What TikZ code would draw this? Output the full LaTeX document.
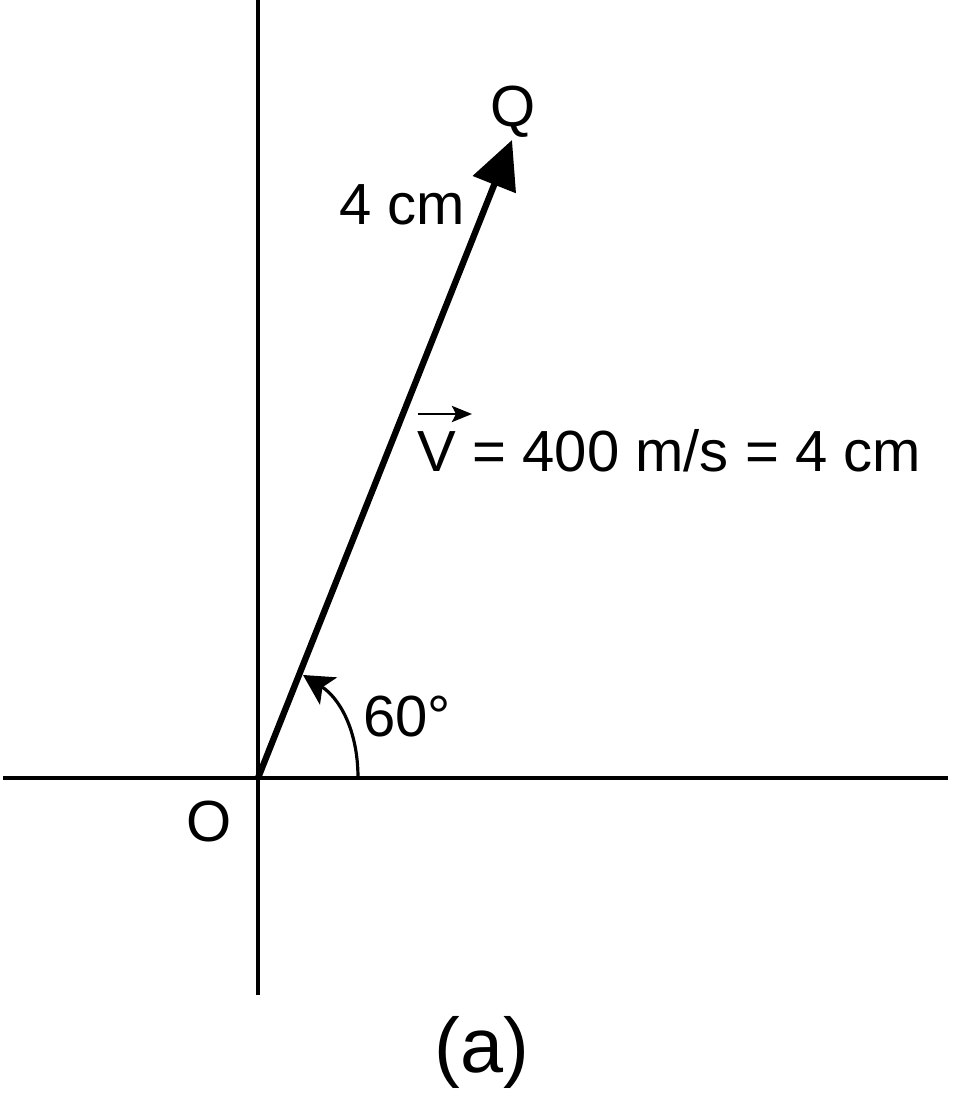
\documentclass[tikz,border=0pt]{standalone}
\usepackage{fontspec}
\setmainfont{Liberation Sans}
\usetikzlibrary{arrows.meta,positioning,calc}

\begin{document}
\begin{tikzpicture}[x=0.01cm,y=-0.01cm]
                \tikzstyle{every node}+=[inner sep=0pt]
                \tikzstyle{axis}=[black, line width=0.9pt]
                \tikzstyle{vec}=[black, line width=1.8pt, -{Triangle[length=0.48cm,width=0.45cm]}]
                \tikzstyle{anglearc}=[black, line width=0.9pt, -{Stealth[length=0.3cm,width=0.32cm,inset=0.07cm]}]
                \tikzstyle{vecbar}=[black, line width=0.85pt, -{Stealth[length=0.2cm,width=0.16cm,inset=0.04cm]}]
                \tikzstyle{lbl}=[font=\fontsize{16.5}{19}\selectfont]
                \useasboundingbox (0,0) rectangle (960,1101);
                % axes
                \coordinate (O) at (258,778);
                \coordinate (ytop) at (258,0);
                \coordinate (ybot) at (258,995);
                \coordinate (xleft) at (3,778);
                \coordinate (xright) at (948,778);
                \draw [axis] (ytop) -- (ybot);
                \draw [axis] (xleft) -- (xright);
                % velocity vector
                \coordinate (Q) at (512,140);
                \draw [vec] (O) -- (Q);
                % angle
                \coordinate (arcstart) at (358,778);
                \coordinate (arcend) at (303,675);
                \draw [anglearc] (arcstart) .. controls (358,728) and (338,697) .. (arcend);
                % labels
                \node [lbl] (qlabel) at (513,112) {Q};
                \node [lbl] (len) at (402,205) {4 cm};
                \node [lbl, anchor=base west] (vlabel) at (417,472) {V = 400 m/s = 4 cm};
                \draw [vecbar] ($(vlabel.base west)+(1,-58)$) -- ($(vlabel.base west)+(55,-58)$);
                \node [lbl] (ang) at (407,717) {60°};
                \node [lbl] (olabel) at (209,822) {O};
                \node [font=\fontsize{22}{26}\selectfont] (cap) at (482,1052) {(a)};
\end{tikzpicture}
\end{document}
